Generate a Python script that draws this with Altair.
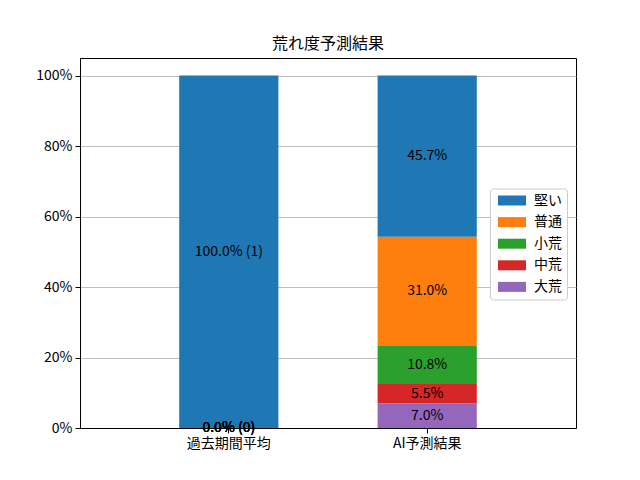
import altair as alt
import pandas as pd

categories = ["過去期間平均", "AI予測結果"]
levels = ["大荒", "中荒", "小荒", "普通", "堅い"]  # bottom to top
colors = ["#9467bd", "#d62728", "#2ca02c", "#ff7f0e", "#1f77b4"]
past_pct = [0.0, 0.0, 0.0, 0.0, 100.0]
past_cnt = [0, 0, 0, 0, 1]
ai_pct = [7.0, 5.5, 10.8, 31.0, 45.7]

rows = []
for cat, vals, cnts in [(categories[0], past_pct, past_cnt), (categories[1], ai_pct, None)]:
    base = 0.0
    for i, (lev, v) in enumerate(zip(levels, vals)):
        lab = f"{v:.1f}%" + (f" ({cnts[i]})" if cnts is not None else "")
        rows.append({"cat": cat, "level": lev, "order": i, "y0": base, "y1": base + v,
                     "mid": base + v / 2, "label": lab})
        base += v
df = pd.DataFrame(rows)

FONT = "Noto Sans CJK JP"

x = alt.X("cat:N", sort=categories, title=None,
          scale=alt.Scale(paddingInner=0.5, paddingOuter=0.5),
          axis=alt.Axis(labelAngle=0, labelFontSize=14, labelColor="black", labelFont=FONT,
                        tickColor="black", tickSize=5, domainColor="black", labelPadding=3))

bars = alt.Chart(df).mark_bar().encode(
    x=x,
    y=alt.Y("y0:Q", title=None, scale=alt.Scale(domain=[0, 105], nice=False),
            axis=alt.Axis(values=[0, 20, 40, 60, 80, 100], labelExpr="datum.value + '%'",
                          labelFontSize=14, labelColor="black", labelFont=FONT,
                          tickColor="black", tickSize=5, domainColor="black",
                          gridColor="#b0b0b0", gridWidth=0.8, labelPadding=3)),
    y2="y1:Q",
    color=alt.Color("level:N", scale=alt.Scale(domain=levels[::-1], range=colors[::-1]),
                    legend=alt.Legend(title=None, orient="none", legendX=410, legendY=130.5,
                                      symbolType="M-2.8,-1L2.8,-1L2.8,1L-2.8,1Z",
                                      symbolSize=100, symbolStrokeWidth=0, symbolOpacity=1,
                                      symbolOffset=10,
                                      labelFontSize=14, labelFont=FONT, labelColor="black",
                                      rowPadding=7.6, padding=5, labelOffset=15,
                                      strokeColor="#cccccc", fillColor="white", cornerRadius=3)),
    order=alt.Order("order:Q"),
)

texts = alt.Chart(df).mark_text(fontSize=14, font=FONT, color="black", baseline="middle").encode(
    x=alt.X("cat:N", sort=categories),
    y=alt.Y("mid:Q"),
    text="label:N",
)

chart = (bars + texts).properties(
    width=496, height=370,
    title=alt.TitleParams("荒れ度予測結果", fontSize=16, font=FONT, fontWeight="normal",
                          color="black", offset=6),
    autosize=alt.AutoSizeParams(type="none"),
    padding={"left": 72, "top": 50, "right": 56, "bottom": 52},
).configure_view(stroke="black", strokeWidth=1).configure_axis(grid=True).configure_axisX(grid=False)

chart.save("out.html", embed_options={"renderer": "svg", "actions": False})
